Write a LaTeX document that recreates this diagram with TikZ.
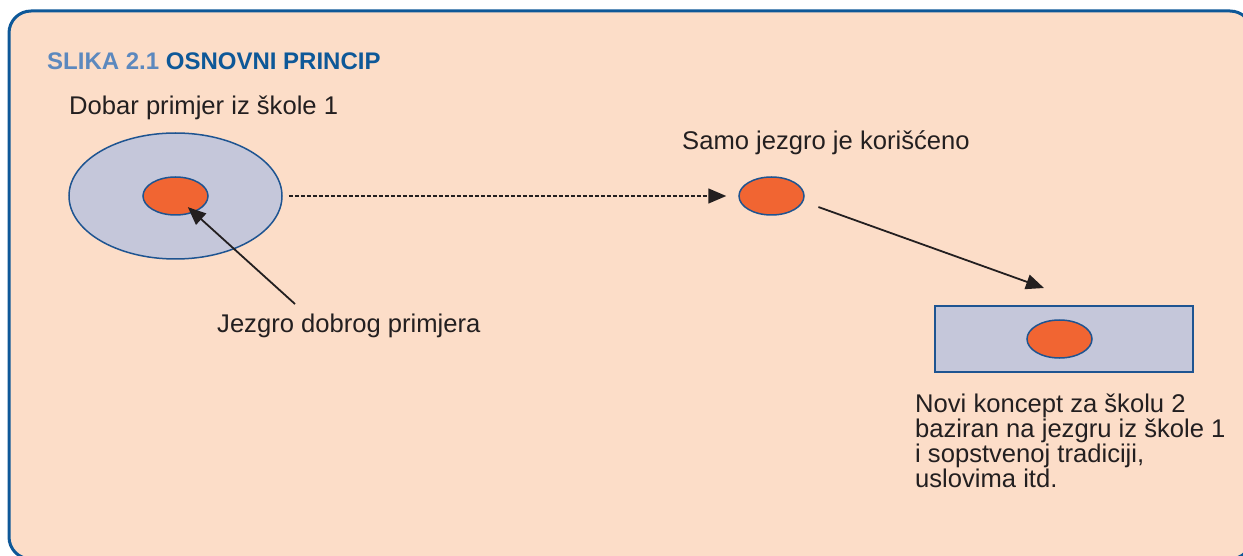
\documentclass[tikz,border=0pt]{standalone}
\usepackage{fontspec}
\setmainfont{Liberation Sans}
\usetikzlibrary{shapes.geometric,arrows.meta}

\definecolor{peach}{RGB}{252,221,200}
\definecolor{frameblue}{RGB}{14,88,152}
\definecolor{lineblue}{RGB}{30,84,145}
\definecolor{lightblue}{RGB}{92,136,190}
\definecolor{lavender}{RGB}{197,199,218}
\definecolor{coreorange}{RGB}{241,101,50}
\definecolor{ink}{RGB}{35,31,32}

\begin{document}
\begin{tikzpicture}[x=1pt,y=1pt,
   txt/.style={inner sep=0pt,anchor=base west,text=ink,
               font=\fontsize{25.6}{25}\selectfont},
   oval/.style={ellipse,draw=lineblue,line width=1.5pt,inner sep=0pt},
   kern/.style={oval,fill=coreorange,minimum width=65pt,minimum height=38pt},
   arr/.style={draw=ink,line width=1.8pt,
               -{Triangle[length=18pt,width=15pt]}}]
   % frame
   \useasboundingbox (0,0) rectangle (1243,-556);
   \clip (0,0) rectangle (1243,-556);
   \draw[frameblue,line width=3pt,fill=peach,rounded corners=22pt]
      (9,-11) rectangle (1252,-559);
   % heading
   \node[txt,font=\fontsize{24}{24}\bfseries] (title) at (47,-70)
      {\textcolor{lightblue}{SLIKA 2.1} \textcolor{frameblue}{OSNOVNI PRINCIP}};
   % school 1
   \node[txt] (good) at (69,-115) {Dobar primjer iz škole 1};
   \node[oval,fill=lavender,minimum width=213pt,minimum height=126pt]
      (outer) at (175.5,-196) {};
   \node[kern] (inner) at (175.5,-196) {};
   \node[txt] (jlabel) at (217,-332) {Jezgro dobrog primjera};
   \coordinate (jtail) at (295,-304);
   % core only
   \node[txt] (onlycore) at (682,-150) {Samo jezgro je korišćeno};
   \node[kern] (core) at (771.5,-196) {};
   % school 2
   \node[draw=lineblue,line width=1.5pt,fill=lavender,inner sep=0pt,
         minimum width=258pt,minimum height=66pt] (box) at (1064,-339) {};
   \node[kern] (newcore) at (1059.5,-339) {};
   \node[txt,align=left,anchor=north west] (newtxt) at (915,-394)
      {Novi koncept za školu 2\\baziran na jezgru iz škole 1\\
       i sopstvenoj tradiciji,\\uslovima itd.};
   \coordinate (tipB) at (1044,-288);
   % connectors
   \draw[arr,shorten >=-8pt] (jtail) -- (inner);
   \draw[arr,line width=1.5pt,dash pattern=on 4pt off 2pt,
         shorten <=6pt,shorten >=12pt] (outer.east) -- (core.west);
   \draw[arr,shorten <=16pt] (core.-10) -- (tipB);
\end{tikzpicture}
\end{document}
